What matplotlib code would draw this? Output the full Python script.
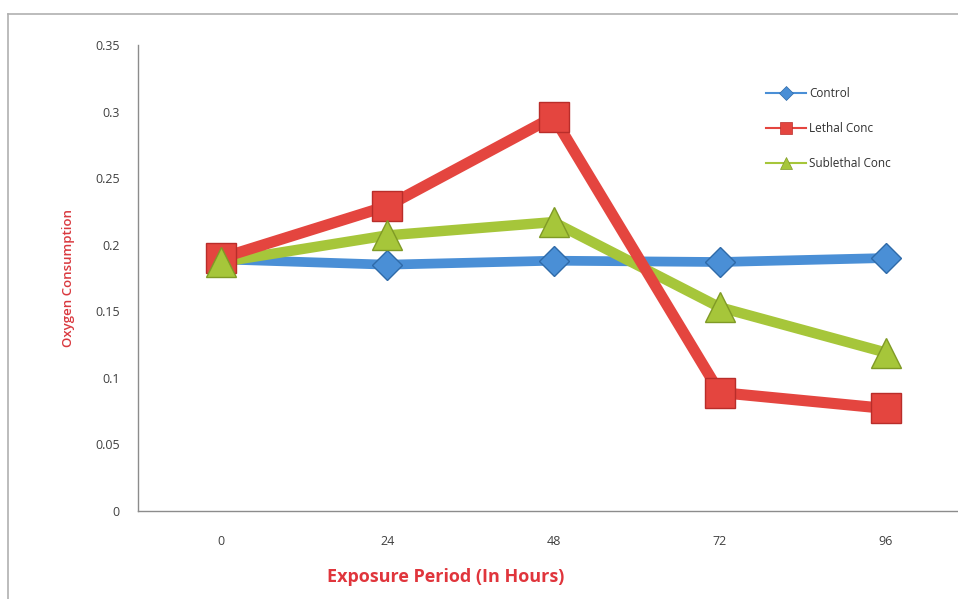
import matplotlib
matplotlib.use("Agg")
import matplotlib.pyplot as plt
from matplotlib.lines import Line2D

hours = ["0", "24", "48", "72", "96"]
control = [0.189, 0.185, 0.188, 0.187, 0.190]
lethal = [0.190, 0.229, 0.296, 0.089, 0.077]
sublethal = [0.187, 0.207, 0.217, 0.153, 0.119]

plt.rcParams['font.family'] = ['Open Sans', 'DejaVu Sans']

fig = plt.figure(figsize=(9.58, 5.99), dpi=100)
ax = fig.add_axes([138/958, 88/599, (969-138)/958, 466/599])

x = list(range(len(hours)))
blue, blue_e = "#4a8fd6", "#2f6aa8"
red, red_e = "#e4453f", "#b92d2a"
green, green_e = "#a6c63a", "#7f9a25"

ax.plot(x, control, color=blue, lw=7, solid_capstyle='butt', zorder=2)
ax.plot(x, sublethal, color=green, lw=7.5, solid_capstyle='butt', zorder=3)
ax.plot(x, lethal, color=red, lw=8, solid_capstyle='butt', zorder=4)
ax.plot(x, control, ls='none', marker='D', ms=15, color=blue, mec=blue_e, mew=1, zorder=5)
ax.plot(x, lethal, ls='none', marker='s', ms=22, color=red, mec=red_e, mew=1, zorder=6)
ax.plot(x, sublethal, ls='none', marker='^', ms=22, color=green, mec=green_e, mew=1, zorder=7)

ax.set_xlim(-0.5, 4.5)
ax.set_ylim(0, 0.35)
ax.set_xticks(x)
ax.set_xticklabels(hours)
ax.set_yticks([0, 0.05, 0.1, 0.15, 0.2, 0.25, 0.3, 0.35])
ax.set_yticklabels(["0", "0.05", "0.1", "0.15", "0.2", "0.25", "0.3", "0.35"])
ax.tick_params(axis='both', length=0, labelsize=9, colors="#404040")
ax.tick_params(axis='y', pad=13)
ax.tick_params(axis='x', pad=17)
for s in ['top', 'right']:
    ax.spines[s].set_visible(False)
for s in ['left', 'bottom']:
    ax.spines[s].set_color("#8c8c8c")
    ax.spines[s].set_linewidth(1)

ax.set_ylabel("Oxygen Consumption", color="#d9383e", fontsize=9.5, fontweight='semibold')
ax.yaxis.set_label_coords(-0.076, 0.5)
fig.text(446/958, 1 - 577/599, "Exposure Period (In Hours)", color="#e0353c",
         fontsize=13, fontweight='bold', ha='center', va='center')

handles = [
    Line2D([], [], color=blue, lw=1.5, marker='D', ms=7, mec=blue_e, mew=0.5),
    Line2D([], [], color=red, lw=1.5, marker='s', ms=8, mec=red_e, mew=0.5),
    Line2D([], [], color=green, lw=1.5, marker='^', ms=8, mec=green_e, mew=0.5),
]
leg = fig.legend(handles, ["Control", "Lethal Conc", "Sublethal Conc"],
                 loc='upper left', bbox_to_anchor=(766/958, 1 - 87/599),
                 frameon=False, fontsize=8.5, handlelength=3.4, labelspacing=1.85,
                 handletextpad=0.25, borderaxespad=0, borderpad=0)
for t in leg.get_texts():
    t.set_color("#303030")

# outer chart border (partially visible)
fig.add_artist(Line2D([8/958, 8/958], [0, 1 - 14/599], transform=fig.transFigure,
                      color="#b0b0b0", lw=1.2))
fig.add_artist(Line2D([8/958, 1], [1 - 14/599, 1 - 14/599], transform=fig.transFigure,
                      color="#b0b0b0", lw=1.2))

fig.savefig("out.png", dpi=100)
